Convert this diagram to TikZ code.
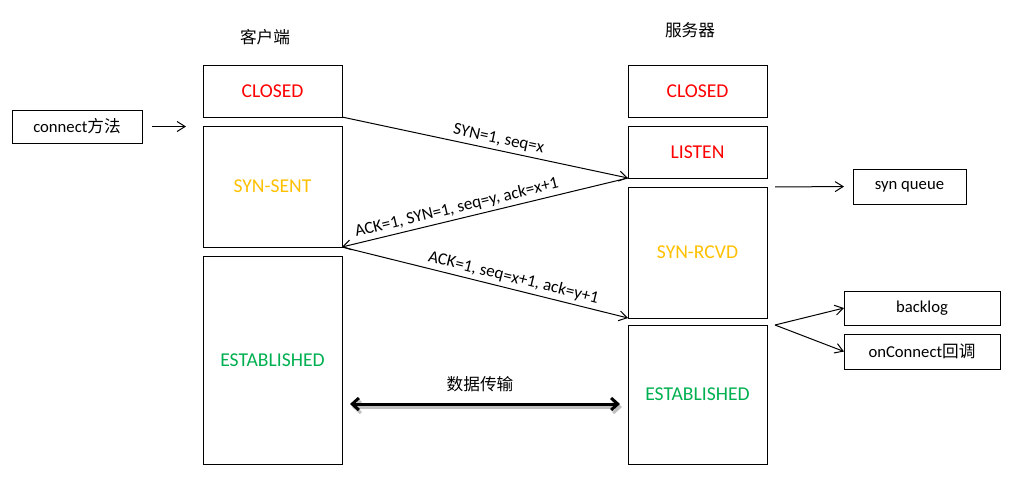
\documentclass[tikz,border=0pt]{standalone}
\usepackage{fontspec}
\setmainfont{Carlito}
\newfontfamily\cjk{Noto Sans CJK SC}
\usetikzlibrary{arrows.meta}
\definecolor{closedred}{RGB}{255,0,0}
\definecolor{synyellow}{RGB}{255,192,0}
\definecolor{estgreen}{RGB}{0,176,80}

\tikzset{
  box/.style 2 args={draw, line width=0.75pt, minimum width=#1*0.75pt, minimum height=#2*0.75pt, inner sep=0pt, outer sep=0pt},
  state/.style={font=\fontsize{14.7}{16}\selectfont},
  msg/.style={font=\fontsize{12.8}{14}\selectfont, sloped, above, inner sep=2.5pt},
  plain/.style={font=\fontsize{12.5}{14}\selectfont},
  thin arrow/.style={line width=0.75pt, -{Straight Barb[length=6pt,width=7.5pt]}},
}

\begin{document}
\begin{tikzpicture}[x=0.75pt, y=-0.75pt]
  \useasboundingbox (0,0) rectangle (1031,487);

  \node[plain] (ctitle) at (265,37) {\cjk 客户端};
  \node[plain] (stitle) at (690,30) {\cjk 服务器};

  \node[box={139}{52}, state, text=closedred] (cclosed) at (272.5,91) {CLOSED};
  \node[box={139}{121}, state, text=synyellow] (synsent) at (272.5,186.5) {SYN-SENT};
  \node[box={139}{208}, state, text=estgreen] (cest) at (272.5,360) {ESTABLISHED};

  \node[box={139}{52}, state, text=closedred] (sclosed) at (697.5,91) {CLOSED};
  \node[box={139}{52}, state, text=closedred] (listen) at (697.5,152) {LISTEN};
  \node[box={139}{131}, state, text=synyellow] (synrcvd) at (697.5,252.5) {SYN-RCVD};
  \node[box={139}{139}, state, text=estgreen] (sest) at (697.5,394.5) {ESTABLISHED};

  \node[box={130}{33}, plain] (connect) at (77,126.5) {connect{\cjk 方法}};
  \node[box={113}{35}, plain] (synq) at (909.5,186.5) {syn queue};
  \node[box={156}{34}, plain] (backlog) at (922,308) {backlog};
  \node[box={156}{35}, plain] (onconn) at (922,351.5) {onConnect{\cjk 回调}};

  \draw[thin arrow, shorten <=7.5pt, shorten >=12.75pt] (connect.east) -- (connect.east -| synsent.west);

  \draw[thin arrow] (cclosed.south east) -- (listen.south west) node[msg, pos=0.54] {SYN=1, seq=x};
  \draw[thin arrow] (listen.south west) -- (synsent.south east) node[msg, pos=0.59] {ACK=1, SYN=1, seq=y, ack=x+1};
  \draw[thin arrow] (synsent.south east) -- (synrcvd.south west) node[msg, pos=0.59] {ACK=1, seq=x+1, ack=y+1};

  \draw[thin arrow, shorten <=6pt, shorten >=6.75pt] (synrcvd.north east) -- (synq.west);

  \coordinate (split) at ([xshift=6pt]sest.north east);
  \draw[thin arrow] (split) -- (backlog.west);
  \draw[thin arrow] (split) -- (onconn.west);

  \coordinate (dl) at (350,404);
  \coordinate (dr) at (620,404);
  \draw[line width=2.25pt, black!25, {Straight Barb[length=5pt,width=9pt]}-{Straight Barb[length=5pt,width=9pt]}] ([shift={(2,3)}]dl) -- ([shift={(2,3)}]dr);
  \draw[line width=2.25pt, {Straight Barb[length=5pt,width=9pt]}-{Straight Barb[length=5pt,width=9pt]}] (dl) -- (dr);
  \node[plain] (data) at (480,384) {\cjk 数据传输};
\end{tikzpicture}
\end{document}
